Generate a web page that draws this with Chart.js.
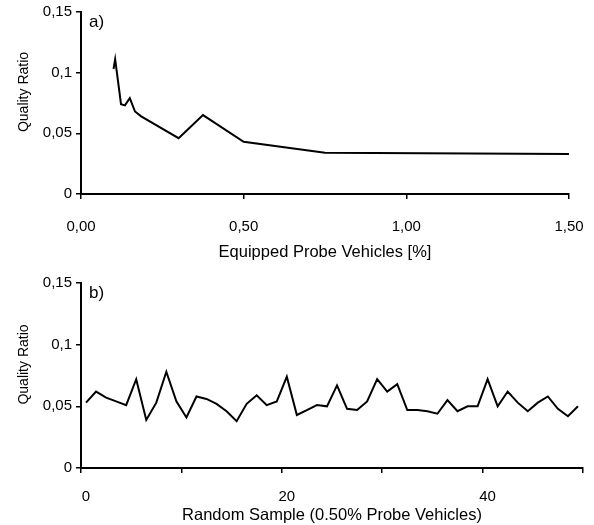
<!DOCTYPE html>
<html><head><meta charset="utf-8">
<script src="https://cdn.jsdelivr.net/npm/chart.js@4"></script>
<style>
html,body{margin:0;padding:0;background:#fff;}
#w1{position:absolute;left:0;top:0;width:594px;height:262px;}
#w2{position:absolute;left:0;top:262px;width:594px;height:263px;}
canvas{display:block;}
</style></head><body>
<div id="w1"><canvas id="c1" width="594" height="262"></canvas></div>
<div id="w2"><canvas id="c2" width="594" height="263"></canvas></div>
<script>
// ---- data ----
const probeShare = [0.10, 0.105, 0.123, 0.135, 0.15, 0.166, 0.185, 0.30, 0.375, 0.50, 0.75, 1.50];
const qualityA   = [0.103, 0.111, 0.074, 0.073, 0.079, 0.068, 0.064, 0.046, 0.065, 0.043, 0.034, 0.033];

const sampleIndex = ['0','1','2','3','4','5','6','7','8','9','10','11','12','13','14','15','16','17','18','19',
  '20','21','22','23','24','25','26','27','28','29','30','31','32','33','34','35','36','37','38','39',
  '40','41','42','43','44','45','46','47','48','49'];
const qualityB = [0.053, 0.062, 0.057, 0.054, 0.051, 0.072, 0.039, 0.053, 0.078, 0.054,
                  0.041, 0.058, 0.056, 0.052, 0.046, 0.038, 0.052, 0.059, 0.051, 0.054,
                  0.074, 0.043, 0.047, 0.051, 0.050, 0.067, 0.048, 0.047, 0.054, 0.072,
                  0.062, 0.068, 0.047, 0.047, 0.046, 0.044, 0.055, 0.046, 0.050, 0.050,
                  0.072, 0.050, 0.062, 0.053, 0.046, 0.053, 0.058, 0.048, 0.042, 0.050];

const yTickValues = [0, 0.05, 0.1, 0.15];
const yTickLabels = ['0', '0,05', '0,1', '0,15'];
const xTickValuesA = [0, 0.5, 1.0, 1.5];
const xTickLabelsA = ['0,00', '0,50', '1,00', '1,50'];
const xLabelEveryB = 20;
const xTickEveryB = 10;

// ---- styling ----
const FONT = '"Liberation Sans", Arial, Helvetica, sans-serif';
const tickFont = {family: FONT, size: 15};
const titleFont = {family: FONT, size: 16.5};

function panelPlugin(label) {
  return {
    id: 'panel' + label,
    afterDraw(chart) {
      const {ctx, chartArea} = chart;
      ctx.save();
      ctx.fillStyle = '#000';
      ctx.font = '17px ' + FONT;
      ctx.textAlign = 'left';
      ctx.textBaseline = 'alphabetic';
      ctx.fillText(label, chartArea.left + 8, chartArea.top + 15);
      ctx.translate(24, (chartArea.top + chartArea.bottom) / 2 - 11);
      ctx.rotate(-Math.PI / 2);
      ctx.textAlign = 'center';
      ctx.textBaseline = 'middle';
      ctx.font = '14px ' + FONT;
      ctx.fillText('Quality Ratio', 0, 0);
      ctx.restore();
    }
  };
}

function yScale() {
  return {
    min: 0, max: 0.15,
    afterBuildTicks: s => { s.ticks = yTickValues.map(v => ({value: v})); },
    ticks: {callback: (v, i) => yTickLabels[i], font: tickFont, color: '#000', padding: 4},
    grid: {drawOnChartArea: false, drawTicks: true, tickLength: 5, color: '#000', lineWidth: 1.5},
    border: {display: true, color: '#000', width: 2},
    afterFit: s => { s.width = 81; s.paddingTop = 0; s.paddingBottom = 0; }
  };
}

function fixX(h) {
  return s => { s.height = h; s.paddingLeft = 0; s.paddingRight = 0; };
}

new Chart(document.getElementById('c1'), {
  type: 'line',
  data: {datasets: [{
    data: probeShare.map((x, i) => ({x: x, y: qualityA[i]})),
    borderColor: '#000', borderWidth: 2, pointRadius: 0, tension: 0, fill: false
  }]},
  options: {
    responsive: false, animation: false,
    layout: {padding: {left: 0, right: 25, top: 12, bottom: 0}},
    plugins: {legend: {display: false}, tooltip: {enabled: false}},
    scales: {
      x: {
        type: 'linear', min: 0, max: 1.5,
        afterBuildTicks: s => { s.ticks = xTickValuesA.map(v => ({value: v})); },
        ticks: {callback: (v, i) => xTickLabelsA[i], font: tickFont, color: '#000', padding: 19, maxRotation: 0, autoSkip: false},
        grid: {drawOnChartArea: false, drawTicks: true, tickLength: 5, color: '#000', lineWidth: 1.5},
        border: {display: true, color: '#000', width: 2},
        title: {display: true, text: 'Equipped Probe Vehicles [%]', font: titleFont, color: '#000', padding: {top: 0, bottom: 0}},
        afterFit: fixX(68)
      },
      y: yScale()
    }
  },
  plugins: [panelPlugin('a)')]
});

new Chart(document.getElementById('c2'), {
  type: 'line',
  data: {labels: sampleIndex, datasets: [{
    data: qualityB,
    borderColor: '#000', borderWidth: 2, pointRadius: 0, tension: 0, fill: false
  }]},
  options: {
    responsive: false, animation: false,
    layout: {padding: {left: 0, right: 11, top: 21, bottom: 0}},
    plugins: {legend: {display: false}, tooltip: {enabled: false}},
    scales: {
      x: {
        type: 'category', offset: true,
        ticks: {callback: (v, i) => (i % xLabelEveryB === 0 ? sampleIndex[i] : ''), font: tickFont, color: '#000', padding: 15, maxRotation: 0, autoSkip: false},
        grid: {offset: true, drawOnChartArea: false, drawTicks: true, tickLength: 5, lineWidth: 1.5,
               color: ctx => (ctx.type !== 'tick' || ctx.index % xTickEveryB === 0) ? '#000' : 'rgba(0,0,0,0)'},
        border: {display: true, color: '#000', width: 2},
        title: {display: true, text: 'Random Sample (0.50% Probe Vehicles)', font: titleFont, color: '#000', padding: {top: 0, bottom: 0}},
        afterFit: fixX(57)
      },
      y: yScale()
    }
  },
  plugins: [panelPlugin('b)')]
});
</script>
</body></html>
